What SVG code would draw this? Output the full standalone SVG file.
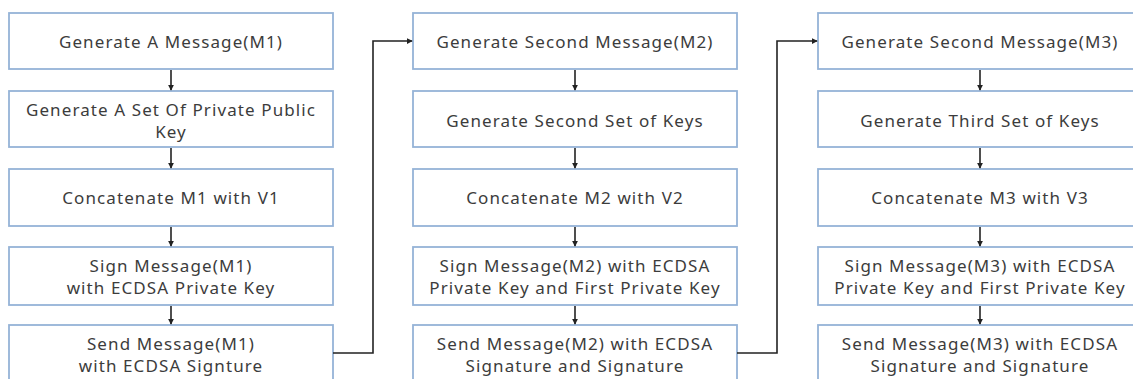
<svg xmlns="http://www.w3.org/2000/svg" width="1133" height="379" viewBox="0 0 1133 379">
<defs>
<style>
.box{fill:#fff;stroke:#95b3d7;stroke-width:1.8}
.t{font-family:"Noto Sans","Open Sans",sans-serif;font-size:17px;letter-spacing:1.1px;fill:#3c3c3c;text-anchor:middle;dominant-baseline:central}
.c{fill:none;stroke:#222;stroke-width:1.6}
</style>
<marker id="ah" viewBox="0 0 8 8" refX="7" refY="4" markerWidth="6" markerHeight="6" orient="auto" markerUnits="userSpaceOnUse">
<path d="M0,0 L8,4 L0,8 Z" fill="#222"/>
</marker>
</defs>
<rect width="1133" height="379" fill="#fff"/>
<g id="n1a"><rect class="box" x="9" y="13" width="324" height="56"/><text class="t" x="171" y="41">Generate A Message(M1)</text></g>
<g id="n1b"><rect class="box" x="9" y="91" width="324" height="56"/><text class="t" x="171" y="109">Generate A Set Of Private Public</text><text class="t" x="171" y="131">Key</text></g>
<g id="n1c"><rect class="box" x="9" y="169" width="324" height="57"/><text class="t" x="171" y="197">Concatenate M1 with V1</text></g>
<g id="n1d"><rect class="box" x="9" y="247" width="324" height="58"/><text class="t" x="171" y="265">Sign Message(M1)</text><text class="t" x="171" y="287">with ECDSA Private Key</text></g>
<g id="n1e"><rect class="box" x="9" y="325" width="324" height="60"/><text class="t" x="171" y="343">Send Message(M1)</text><text class="t" x="171" y="365">with ECDSA Signture</text></g>

<g id="n2a"><rect class="box" x="413" y="13" width="324" height="56"/><text class="t" x="575" y="41">Generate Second Message(M2)</text></g>
<g id="n2b"><rect class="box" x="413" y="91" width="324" height="56"/><text class="t" x="575" y="120">Generate Second Set of Keys</text></g>
<g id="n2c"><rect class="box" x="413" y="169" width="324" height="57"/><text class="t" x="575" y="197">Concatenate M2 with V2</text></g>
<g id="n2d"><rect class="box" x="413" y="247" width="324" height="58"/><text class="t" x="575" y="265">Sign Message(M2) with ECDSA</text><text class="t" x="575" y="287">Private Key and First Private Key</text></g>
<g id="n2e"><rect class="box" x="413" y="325" width="324" height="60"/><text class="t" x="575" y="343">Send Message(M2) with ECDSA</text><text class="t" x="575" y="365">Signature and Signature</text></g>

<g id="n3a"><rect class="box" x="818" y="13" width="324" height="56"/><text class="t" x="980" y="41">Generate Second Message(M3)</text></g>
<g id="n3b"><rect class="box" x="818" y="91" width="324" height="56"/><text class="t" x="980" y="120">Generate Third Set of Keys</text></g>
<g id="n3c"><rect class="box" x="818" y="169" width="324" height="57"/><text class="t" x="980" y="197">Concatenate M3 with V3</text></g>
<g id="n3d"><rect class="box" x="818" y="247" width="324" height="58"/><text class="t" x="980" y="265">Sign Message(M3) with ECDSA</text><text class="t" x="980" y="287">Private Key and First Private Key</text></g>
<g id="n3e"><rect class="box" x="818" y="325" width="324" height="60"/><text class="t" x="980" y="343">Send Message(M3) with ECDSA</text><text class="t" x="980" y="365">Signature and Signature</text></g>

<g id="connectors">
<line class="c" x1="171" y1="70" x2="171" y2="90" marker-end="url(#ah)"/>
<line class="c" x1="171" y1="148" x2="171" y2="168" marker-end="url(#ah)"/>
<line class="c" x1="171" y1="227" x2="171" y2="246" marker-end="url(#ah)"/>
<line class="c" x1="171" y1="306" x2="171" y2="324" marker-end="url(#ah)"/>
<line class="c" x1="575" y1="70" x2="575" y2="90" marker-end="url(#ah)"/>
<line class="c" x1="575" y1="148" x2="575" y2="168" marker-end="url(#ah)"/>
<line class="c" x1="575" y1="227" x2="575" y2="246" marker-end="url(#ah)"/>
<line class="c" x1="575" y1="306" x2="575" y2="324" marker-end="url(#ah)"/>
<line class="c" x1="980" y1="70" x2="980" y2="90" marker-end="url(#ah)"/>
<line class="c" x1="980" y1="148" x2="980" y2="168" marker-end="url(#ah)"/>
<line class="c" x1="980" y1="227" x2="980" y2="246" marker-end="url(#ah)"/>
<line class="c" x1="980" y1="306" x2="980" y2="324" marker-end="url(#ah)"/>
<polyline class="c" points="333,353 373,353 373,41 412,41" marker-end="url(#ah)"/>
<polyline class="c" points="737,353 777,353 777,41 817,41" marker-end="url(#ah)"/>
</g>
</svg>
